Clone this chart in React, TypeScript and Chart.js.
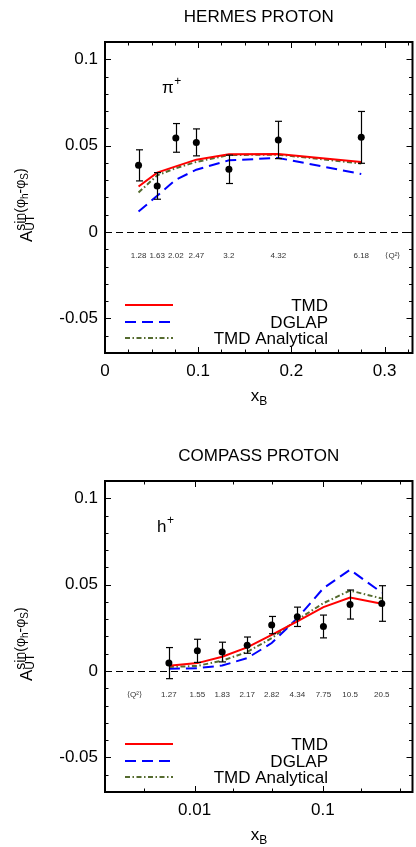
import React, { useEffect, useRef } from 'react';
import { Chart, registerables } from 'chart.js';

Chart.register(...registerables);

const FONT = '"Liberation Sans", Arial, Helvetica, sans-serif';
Chart.defaults.font.family = FONT;

// ---------------- HERMES proton (top panel) ----------------
const hermesX = [0.036, 0.056, 0.076, 0.098, 0.133, 0.186, 0.275];
const hermesA = [0.0386, 0.0267, 0.0545, 0.0519, 0.0363, 0.0533, 0.0548];
const hermesErr = [0.009, 0.0077, 0.0083, 0.0078, 0.0082, 0.0108, 0.015];
const hermesQ2 = ['1.28', '1.63', '2.02', '2.47', '3.2', '4.32', '6.18'];
const hermesTMD = [0.0264, 0.0344, 0.038, 0.0419, 0.045, 0.0452, 0.0406];
const hermesDGLAP = [0.0119, 0.021, 0.0303, 0.0361, 0.0415, 0.0429, 0.0336];
const hermesAnalytical = [0.0229, 0.0328, 0.037, 0.0406, 0.0446, 0.0448, 0.0397];
const hermesXTicks = [0, 0.025, 0.05, 0.075, 0.1, 0.125, 0.15, 0.175, 0.2, 0.225, 0.25, 0.275, 0.3, 0.325];
const hermesXMajor = [0, 0.1, 0.2, 0.3];
const hermesXLabels = ['0', '0.1', '0.2', '0.3'];

// ---------------- COMPASS proton (bottom panel) ----------------
const compassX = [0.0063, 0.0105, 0.0164, 0.0257, 0.0399, 0.0632, 0.101, 0.163, 0.288];
const compassA = [0.0046, 0.0117, 0.011, 0.015, 0.0266, 0.0314, 0.0258, 0.0385, 0.0391];
const compassErr = [0.009, 0.0067, 0.0057, 0.0047, 0.005, 0.0056, 0.0066, 0.0084, 0.0103];
const compassQ2 = ['1.27', '1.55', '1.83', '2.17', '2.82', '4.34', '7.75', '10.5', '20.5'];
const compassTMD = [0.0031, 0.0046, 0.0083, 0.0137, 0.021, 0.0287, 0.037, 0.0426, 0.0389];
const compassDGLAP = [0.0013, 0.0017, 0.0032, 0.0075, 0.0162, 0.0306, 0.048, 0.0586, 0.0454];
const compassAnalytical = [0.0023, 0.003, 0.006, 0.011, 0.0191, 0.0297, 0.0393, 0.0466, 0.042];
const compassXTicks = [0.002, 0.004, 0.01, 0.02, 0.04, 0.1, 0.2, 0.4];
const compassXMajor = [0.01, 0.1];
const compassXLabels = ['0.01', '0.1'];

// ---------------- shared y axis ----------------
const yTicks = [-0.07, -0.06, -0.05, -0.04, -0.03, -0.02, -0.01, 0, 0.01, 0.02, 0.03, 0.04, 0.05, 0.06, 0.07, 0.08, 0.09, 0.1, 0.11];
const yMajor = [-0.05, 0, 0.05, 0.1];
const yLabels = ['-0.05', '0', '0.05', '0.1'];
const legendLabels = ['TMD', 'DGLAP', 'TMD Analytical'];
const q2Tag = '⟨Q²⟩';

const RED = '#ff0000';
const BLUE = '#0000ff';
const GREEN = '#556b2f';
const DASH_BLUE = [11, 6];
const DASH_GREEN = [5, 2.5, 1.5, 2.5];

interface Panel {
  id: string;
  title: string;
  hadron: string;
  hadronDx: number;
  x: number[];
  a: number[];
  err: number[];
  q2: string[];
  tmd: number[];
  dglap: number[];
  analytical: number[];
  xType: 'linear' | 'logarithmic';
  xMin: number;
  xMax: number;
  xTicks: number[];
  xMajor: number[];
  xLabels: string[];
  q2TagX: number;
  height: number;
  padTop: number;
  xAxisH: number;
}

const hermes: Panel = {
  id: 'hermes', title: 'HERMES PROTON', hadron: 'π', hadronDx: 57,
  x: hermesX, a: hermesA, err: hermesErr, q2: hermesQ2,
  tmd: hermesTMD, dglap: hermesDGLAP, analytical: hermesAnalytical,
  xType: 'linear', xMin: 0, xMax: 0.33,
  xTicks: hermesXTicks, xMajor: hermesXMajor, xLabels: hermesXLabels,
  q2TagX: 0.309, height: 420, padTop: 42, xAxisH: 67,
};

const compass: Panel = {
  id: 'compass', title: 'COMPASS PROTON', hadron: 'h', hadronDx: 52,
  x: compassX, a: compassA, err: compassErr, q2: compassQ2,
  tmd: compassTMD, dglap: compassDGLAP, analytical: compassAnalytical,
  xType: 'logarithmic', xMin: 0.002, xMax: 0.5,
  xTicks: compassXTicks, xMajor: compassXMajor, xLabels: compassXLabels,
  q2TagX: 0.0034, height: 427, padTop: 61, xAxisH: 55,
};

const isIn = (list: number[], v: number) =>
  list.findIndex((m) => Math.abs(m - v) <= 1e-7 * Math.max(Math.abs(m), 1e-6));

function line(ctx: CanvasRenderingContext2D, x1: number, y1: number, x2: number, y2: number) {
  ctx.beginPath();
  ctx.moveTo(x1, y1);
  ctx.lineTo(x2, y2);
  ctx.stroke();
}

function makePlugin(p: Panel) {
  return {
    id: 'panel_' + p.id,
    beforeDatasetsDraw(chart: any) {
      const { ctx, chartArea: a, scales } = chart;
      const y0 = Math.round(scales.y.getPixelForValue(0)) + 0.5;
      ctx.save();
      ctx.strokeStyle = '#000';
      ctx.lineWidth = 1.2;
      ctx.setLineDash([7, 4]);
      line(ctx, a.left, y0, a.right, y0);
      ctx.restore();
    },
    afterDatasetsDraw(chart: any) {
      const { ctx, scales } = chart;
      ctx.save();
      ctx.strokeStyle = '#000';
      ctx.lineWidth = 1.2;
      p.x.forEach((xv, i) => {
        const px = Math.round(scales.x.getPixelForValue(xv)) + 0.5;
        const yt = scales.y.getPixelForValue(p.a[i] + p.err[i]);
        const yb = scales.y.getPixelForValue(p.a[i] - p.err[i]);
        line(ctx, px, yt, px, yb);
        line(ctx, px - 3.5, yt, px + 3.5, yt);
        line(ctx, px - 3.5, yb, px + 3.5, yb);
      });
      ctx.restore();
    },
    afterDraw(chart: any) {
      const { ctx, chartArea: a, scales } = chart;
      const xs = scales.x;
      const ys = scales.y;
      ctx.save();
      ctx.setLineDash([]);
      ctx.strokeStyle = '#000';
      ctx.fillStyle = '#000';

      // inward tick marks
      ctx.lineWidth = 1;
      p.xTicks.forEach((v) => {
        const px = Math.round(xs.getPixelForValue(v)) + 0.5;
        if (px <= a.left + 2 || px >= a.right - 2) return;
        const len = isIn(p.xMajor, v) >= 0 ? 6 : 3.5;
        line(ctx, px, a.bottom, px, a.bottom - len);
        line(ctx, px, a.top, px, a.top + len);
      });
      yTicks.forEach((v) => {
        const py = Math.round(ys.getPixelForValue(v)) + 0.5;
        if (py <= a.top + 2 || py >= a.bottom - 2) return;
        const len = isIn(yMajor, v) >= 0 ? 6 : 3.5;
        line(ctx, a.left, py, a.left + len, py);
        line(ctx, a.right, py, a.right - len, py);
      });

      // frame
      ctx.lineWidth = 2;
      ctx.strokeRect(a.left, a.top, a.right - a.left, a.bottom - a.top);

      // title
      const cx = (a.left + a.right) / 2;
      ctx.textAlign = 'center';
      ctx.textBaseline = 'alphabetic';
      ctx.font = `17px ${FONT}`;
      ctx.fillText(p.title, cx, a.top - 20);

      // hadron label
      ctx.textAlign = 'left';
      ctx.font = `17px ${FONT}`;
      ctx.fillText(p.hadron, a.left + p.hadronDx, a.top + 51);
      const hw = ctx.measureText(p.hadron).width;
      ctx.font = `12px ${FONT}`;
      ctx.fillText('+', a.left + p.hadronDx + hw + 0.5, a.top + 43);

      // Q^2 values
      ctx.font = `8px ${FONT}`;
      ctx.fillStyle = '#333';
      ctx.textAlign = 'center';
      ctx.textBaseline = 'middle';
      const qy = ys.getPixelForValue(-0.0137);
      p.x.forEach((xv, i) => {
        ctx.fillText(p.q2[i], xs.getPixelForValue(xv), qy);
      });
      ctx.fillText(q2Tag, xs.getPixelForValue(p.q2TagX), qy);

      // legend
      ctx.fillStyle = '#000';
      const rows = [a.bottom - 48, a.bottom - 31, a.bottom - 15];
      const styles = [
        { c: RED, d: [] as number[], w: 2 },
        { c: BLUE, d: DASH_BLUE, w: 2 },
        { c: GREEN, d: DASH_GREEN, w: 2 },
      ];
      rows.forEach((ry, i) => {
        ctx.save();
        ctx.strokeStyle = styles[i].c;
        ctx.lineWidth = styles[i].w;
        ctx.setLineDash(styles[i].d);
        line(ctx, a.left + 20, ry, a.left + 68, ry);
        ctx.restore();
        ctx.font = `17px ${FONT}`;
        ctx.textAlign = 'right';
        ctx.textBaseline = 'alphabetic';
        ctx.fillText(legendLabels[i], a.left + 223, ry + 6);
      });

      // x axis title  x_B
      ctx.textAlign = 'left';
      ctx.textBaseline = 'alphabetic';
      ctx.font = `17px ${FONT}`;
      ctx.fillText('x', cx - 8, a.bottom + 48);
      const xw = ctx.measureText('x').width;
      ctx.font = `12px ${FONT}`;
      ctx.fillText('B', cx - 8 + xw, a.bottom + 52);

      // y axis title  A_UT^{sin(phi_h - phi_S)}
      ctx.save();
      ctx.translate(32, a.top + 200);
      ctx.rotate(-Math.PI / 2);
      ctx.textAlign = 'left';
      ctx.font = `17px ${FONT}`;
      ctx.fillText('A', 0, 0);
      const aw = ctx.measureText('A').width;
      ctx.font = `12px ${FONT}`;
      ctx.fillText('UT', aw, 1.5);
      let px = aw;
      const sup: [string, number, number][] = [
        ['sin(φ', 14, -7.5],
        ['h', 10, -4],
        ['-φ', 14, -7.5],
        ['S', 10, -4],
        [')', 14, -7.5],
      ];
      sup.forEach(([t, s, dy]) => {
        ctx.font = `${s}px ${FONT}`;
        ctx.fillText(t, px, dy);
        px += ctx.measureText(t).width;
      });
      ctx.restore();

      ctx.restore();
    },
  };
}

function buildConfig(p: Panel): any {
  const pts = (ys: number[]) => p.x.map((xv, i) => ({ x: xv, y: ys[i] }));
  const curve = { fill: false, tension: 0, pointRadius: 0, pointHoverRadius: 0, borderWidth: 2, borderCapStyle: 'butt' };
  return {
    type: 'line',
    data: {
      datasets: [
        {
          label: 'data', data: pts(p.a), showLine: false, pointRadius: 3.5, pointHoverRadius: 3.5,
          pointBackgroundColor: '#000', pointBorderColor: '#000', pointBorderWidth: 0, order: 0,
        },
        { ...curve, label: legendLabels[0], data: pts(p.tmd), borderColor: RED, order: 1 },
        { ...curve, label: legendLabels[2], data: pts(p.analytical), borderColor: GREEN, borderDash: DASH_GREEN, order: 2 },
        { ...curve, label: legendLabels[1], data: pts(p.dglap), borderColor: BLUE, borderDash: DASH_BLUE, order: 3 },
      ],
    },
    options: {
      animation: false,
      responsive: false,
      maintainAspectRatio: false,
      devicePixelRatio: 1,
      events: [],
      layout: { padding: { top: p.padTop, right: 1, left: 0, bottom: 0 } },
      plugins: { legend: { display: false }, title: { display: false }, tooltip: { enabled: false } },
      scales: {
        x: {
          type: p.xType,
          min: p.xMin,
          max: p.xMax,
          afterBuildTicks: (s: any) => { s.ticks = p.xTicks.map((v) => ({ value: v })); },
          afterFit: (s: any) => { s.height = p.xAxisH; },
          grid: { display: false, drawTicks: false },
          border: { display: false },
          ticks: {
            autoSkip: false, maxRotation: 0, minRotation: 0, padding: 8, color: '#000',
            font: { family: FONT, size: 17 },
            callback: (v: any) => { const i = isIn(p.xMajor, Number(v)); return i >= 0 ? p.xLabels[i] : ''; },
          },
        },
        y: {
          type: 'linear',
          min: -0.07,
          max: 0.11,
          afterBuildTicks: (s: any) => { s.ticks = yTicks.map((v) => ({ value: v })); },
          afterFit: (s: any) => { s.width = 105; },
          grid: { display: false, drawTicks: false },
          border: { display: false },
          ticks: {
            autoSkip: false, padding: 7, color: '#000',
            font: { family: FONT, size: 17 },
            callback: (v: any) => { const i = isIn(yMajor, Number(v)); return i >= 0 ? yLabels[i] : ''; },
          },
        },
      },
    },
    plugins: [makePlugin(p)],
  };
}

function PanelChart({ p }: { p: Panel }) {
  const ref = useRef<HTMLCanvasElement>(null);
  useEffect(() => {
    const chart = new Chart(ref.current as HTMLCanvasElement, buildConfig(p));
    return () => chart.destroy();
  }, [p]);
  return (
    <canvas ref={ref} width={416} height={p.height} style={{ display: 'block', width: 416, height: p.height }} />
  );
}

export default function App() {
  return (
    <div style={{ position: 'absolute', left: 0, top: 0, width: 416, height: 847, background: '#fff', overflow: 'hidden' }}>
      <PanelChart p={hermes} />
      <PanelChart p={compass} />
    </div>
  );
}
